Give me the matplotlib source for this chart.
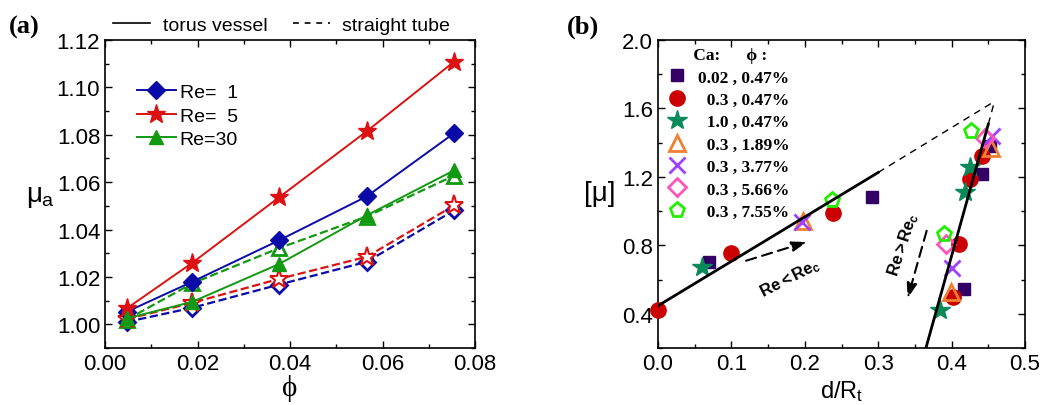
import matplotlib
matplotlib.use("Agg")
from matplotlib import pyplot as plt
from matplotlib.lines import Line2D
from matplotlib.ticker import MultipleLocator, FormatStrFormatter
from matplotlib.font_manager import FontProperties

plt.rcParams["font.family"] = ["Liberation Sans", "DejaVu Sans"]
plt.rcParams["mathtext.fontset"] = "custom"
plt.rcParams["mathtext.rm"] = "Liberation Sans"
plt.rcParams["mathtext.it"] = "Liberation Sans"
plt.rcParams["mathtext.bf"] = "Liberation Sans:bold"

# ---- panel (a) data ----
phi = [0.0047, 0.0189, 0.0377, 0.0566, 0.0755]
torus_re1 = [1.0053, 1.0180, 1.0355, 1.0540, 1.0807]
torus_re5 = [1.0067, 1.0260, 1.0537, 1.0815, 1.1109]
torus_re30 = [1.0025, 1.0095, 1.0255, 1.0460, 1.0650]
tube_re1 = [1.0010, 1.0070, 1.0168, 1.0264, 1.0481]
tube_re5 = [1.0022, 1.0091, 1.0192, 1.0285, 1.0502]
tube_re30 = [1.0020, 1.0173, 1.0322, 1.0455, 1.0628]
re_labels = ["Re=  1", "Re=  5", "Re=30"]

# ---- panel (b) data ----
sq_d = [0.069, 0.292, 0.441, 0.452, 0.417]
sq_mu = [0.704, 1.080, 1.216, 1.380, 0.545]
ci_d = [0.0, 0.100, 0.239, 0.441, 0.425, 0.410, 0.402]
ci_mu = [0.420, 0.758, 0.990, 1.320, 1.190, 0.807, 0.496]
st_d = [0.0595, 0.425, 0.418, 0.384]
st_mu = [0.671, 1.255, 1.109, 0.422]
tr_d = [0.198, 0.453, 0.399]
tr_mu = [0.943, 1.370, 0.529]
x_d = [0.196, 0.455, 0.400]
x_mu = [0.934, 1.440, 0.665]
di_d = [0.4455, 0.393]
di_mu = [1.430, 0.807]
pe_d = [0.237, 0.427, 0.389]
pe_mu = [1.065, 1.469, 0.866]
b_labels = ["0.02 , 0.47%", "  0.3 , 0.47%", "  1.0 , 0.47%", "  0.3 , 1.89%",
            "  0.3 , 3.77%", "  0.3 , 5.66%", "  0.3 , 7.55%"]

# fit lines
low_line_d = [0.0, 0.300]
low_line_mu = [0.447, 1.226]
low_dash_d = [0.300, 0.456]
low_dash_mu = [1.226, 1.635]
high_line_d = [0.365, 0.450]
high_line_mu = [0.20, 1.508]
high_dash_d = [0.450, 0.458]
high_dash_mu = [1.508, 1.635]

serif = ["Liberation Serif", "DejaVu Serif"]

fig = plt.figure(figsize=(10.47, 4.06), dpi=100)
ax1 = fig.add_axes([0.1003, 0.1404, 0.3534, 0.7586])
ax2 = fig.add_axes([0.6285, 0.1404, 0.3505, 0.7586])

blue = "#0a0aa8"
red = "#dd1111"
green = "#119911"

ax1.plot(phi, torus_re1, "-", color=blue, lw=1.4, marker="D", ms=9, zorder=4)
ax1.plot(phi, torus_re5, "-", color=red, lw=1.4, marker="*", ms=14, zorder=4)
ax1.plot(phi, torus_re30, "-", color=green, lw=1.4, marker="^", ms=10, zorder=4)
ax1.plot(phi, tube_re1, "--", color=blue, lw=1.6, marker="D", ms=8, mfc="white", mew=2, zorder=3)
ax1.plot(phi, tube_re30, "--", color=green, lw=1.6, marker="^", ms=10, mfc="white", mew=2, zorder=3)
ax1.plot(phi, tube_re5, "--", color=red, lw=1.6, marker="*", ms=14, mfc="white", mew=1.5, zorder=3)

ax1.set_xlim(0, 0.08)
ax1.set_ylim(0.99, 1.12)
ax1.xaxis.set_major_locator(MultipleLocator(0.02))
ax1.xaxis.set_minor_locator(MultipleLocator(0.01))
ax1.yaxis.set_major_locator(MultipleLocator(0.02))
ax1.yaxis.set_minor_locator(MultipleLocator(0.01))
ax1.xaxis.set_major_formatter(FormatStrFormatter("%.2f"))
ax1.yaxis.set_major_formatter(FormatStrFormatter("%.2f"))
ax1.set_xlabel("ϕ", fontsize=21, family=serif, labelpad=0)
ax1.set_ylabel(r"$\mu_a$", fontsize=20, rotation=0)
ax1.yaxis.set_label_coords(-0.175, 0.45)

re_handles = [
    Line2D([], [], color=blue, lw=1.4, marker="D", ms=9),
    Line2D([], [], color=red, lw=1.4, marker="*", ms=14),
    Line2D([], [], color=green, lw=1.4, marker="^", ms=10),
]
ax1.legend(re_handles, re_labels, loc="upper left", bbox_to_anchor=(0.06, 0.89),
           frameon=False, fontsize=14, handlelength=2.0, handletextpad=0.2,
           labelspacing=0.3, borderpad=0)

style_handles = [Line2D([], [], color="black", lw=1.2, ls="-"),
                 Line2D([], [], color="black", lw=1.2, ls=(0, (3.5, 3.5)))]
fig.legend(style_handles, ["torus vessel", "straight tube"], loc="center",
           bbox_to_anchor=(0.269, 0.935), ncol=2, frameon=False, fontsize=14,
           handlelength=1.9, handletextpad=0.65, columnspacing=1.3,
           borderpad=0, borderaxespad=0)

# ---- panel (b) ----
ax2.plot(sq_d, sq_mu, ls="none", marker="s", ms=9, color="#330066", label=b_labels[0], clip_on=False, zorder=3)
ax2.plot(ci_d, ci_mu, ls="none", marker="o", ms=11, color="#cc0000", label=b_labels[1], clip_on=False, zorder=3)
ax2.plot(st_d, st_mu, ls="none", marker="*", ms=15, color="#0a8a5a", label=b_labels[2], clip_on=False, zorder=3)
ax2.plot(tr_d, tr_mu, ls="none", marker="^", ms=11, mfc="none", mew=2, color="#f08030", label=b_labels[3], zorder=3)
ax2.plot(x_d, x_mu, ls="none", marker="x", ms=11, mew=2, color="#a040ff", label=b_labels[4], zorder=3)
ax2.plot(di_d, di_mu, ls="none", marker="D", ms=9, mfc="none", mew=2, color="#ff55bb", label=b_labels[5], zorder=3)
ax2.plot(pe_d, pe_mu, ls="none", marker="p", ms=11, mfc="none", mew=2, color="#22ee00", label=b_labels[6], zorder=3)

ax2.plot(low_line_d, low_line_mu, color="black", lw=2, zorder=4)
ax2.plot(low_dash_d, low_dash_mu, color="black", lw=1, ls=(0, (5, 4)), zorder=4)
ax2.plot(high_line_d, high_line_mu, color="black", lw=2, zorder=4)
ax2.plot(high_dash_d, high_dash_mu, color="black", lw=1, ls=(0, (5, 4)), zorder=4)

arrow_style = dict(arrowstyle="-|>,head_length=0.9,head_width=0.3", color="black",
                   lw=1.5, ls=(0, (5, 3)), shrinkA=0, shrinkB=0)
ax2.annotate("", xy=(0.203, 0.82), xytext=(0.12, 0.71), arrowprops=arrow_style)
ax2.text(0.18, 0.61, r"$\mathbf{Re{<}Re}_\mathbf{c}$", rotation=27, fontsize=12,
         ha="center", va="center")
ax2.annotate("", xy=(0.340, 0.49), xytext=(0.366, 0.885), arrowprops=arrow_style)
ax2.text(0.334, 0.81, r"$\mathbf{Re{>}Re}_\mathbf{c}$", rotation=72, fontsize=12,
         ha="center", va="center")

ax2.set_xlim(0, 0.5)
ax2.set_ylim(0.2, 2.0)
ax2.xaxis.set_major_locator(MultipleLocator(0.1))
ax2.xaxis.set_minor_locator(MultipleLocator(0.05))
ax2.yaxis.set_major_locator(MultipleLocator(0.4))
ax2.yaxis.set_minor_locator(MultipleLocator(0.2))
ax2.xaxis.set_major_formatter(FormatStrFormatter("%.1f"))
ax2.yaxis.set_major_formatter(FormatStrFormatter("%.1f"))
ax2.set_xlabel(r"d/R$_\mathregular{t}$", fontsize=17, labelpad=3)
ax2.set_ylabel("[μ]", fontsize=20, rotation=0)
ax2.yaxis.set_label_coords(-0.16, 0.46)

leg_font = FontProperties(family=serif, weight="bold", size=12.5)
leg = ax2.legend(loc="upper left", bbox_to_anchor=(0.0, 1.005), frameon=False,
                 title="      Ca:      ϕ :", alignment="left", handlelength=1.2,
                 handletextpad=0.6, labelspacing=0.36, borderpad=0, prop=leg_font)
leg.get_title().set_fontproperties(leg_font)

for ax in (ax1, ax2):
    ax.tick_params(which="both", direction="in", top=True, right=True, labelsize=16)
    ax.tick_params(which="major", length=5, width=1)
    ax.tick_params(which="minor", length=3, width=1)
    for s in ax.spines.values():
        s.set_linewidth(1.2)

fig.text(0.008, 0.933, "(a)", fontsize=19, fontweight="bold", family=serif, va="center")
fig.text(0.541, 0.933, "(b)", fontsize=19, fontweight="bold", family=serif, va="center")

fig.savefig("out.png", dpi=100)
